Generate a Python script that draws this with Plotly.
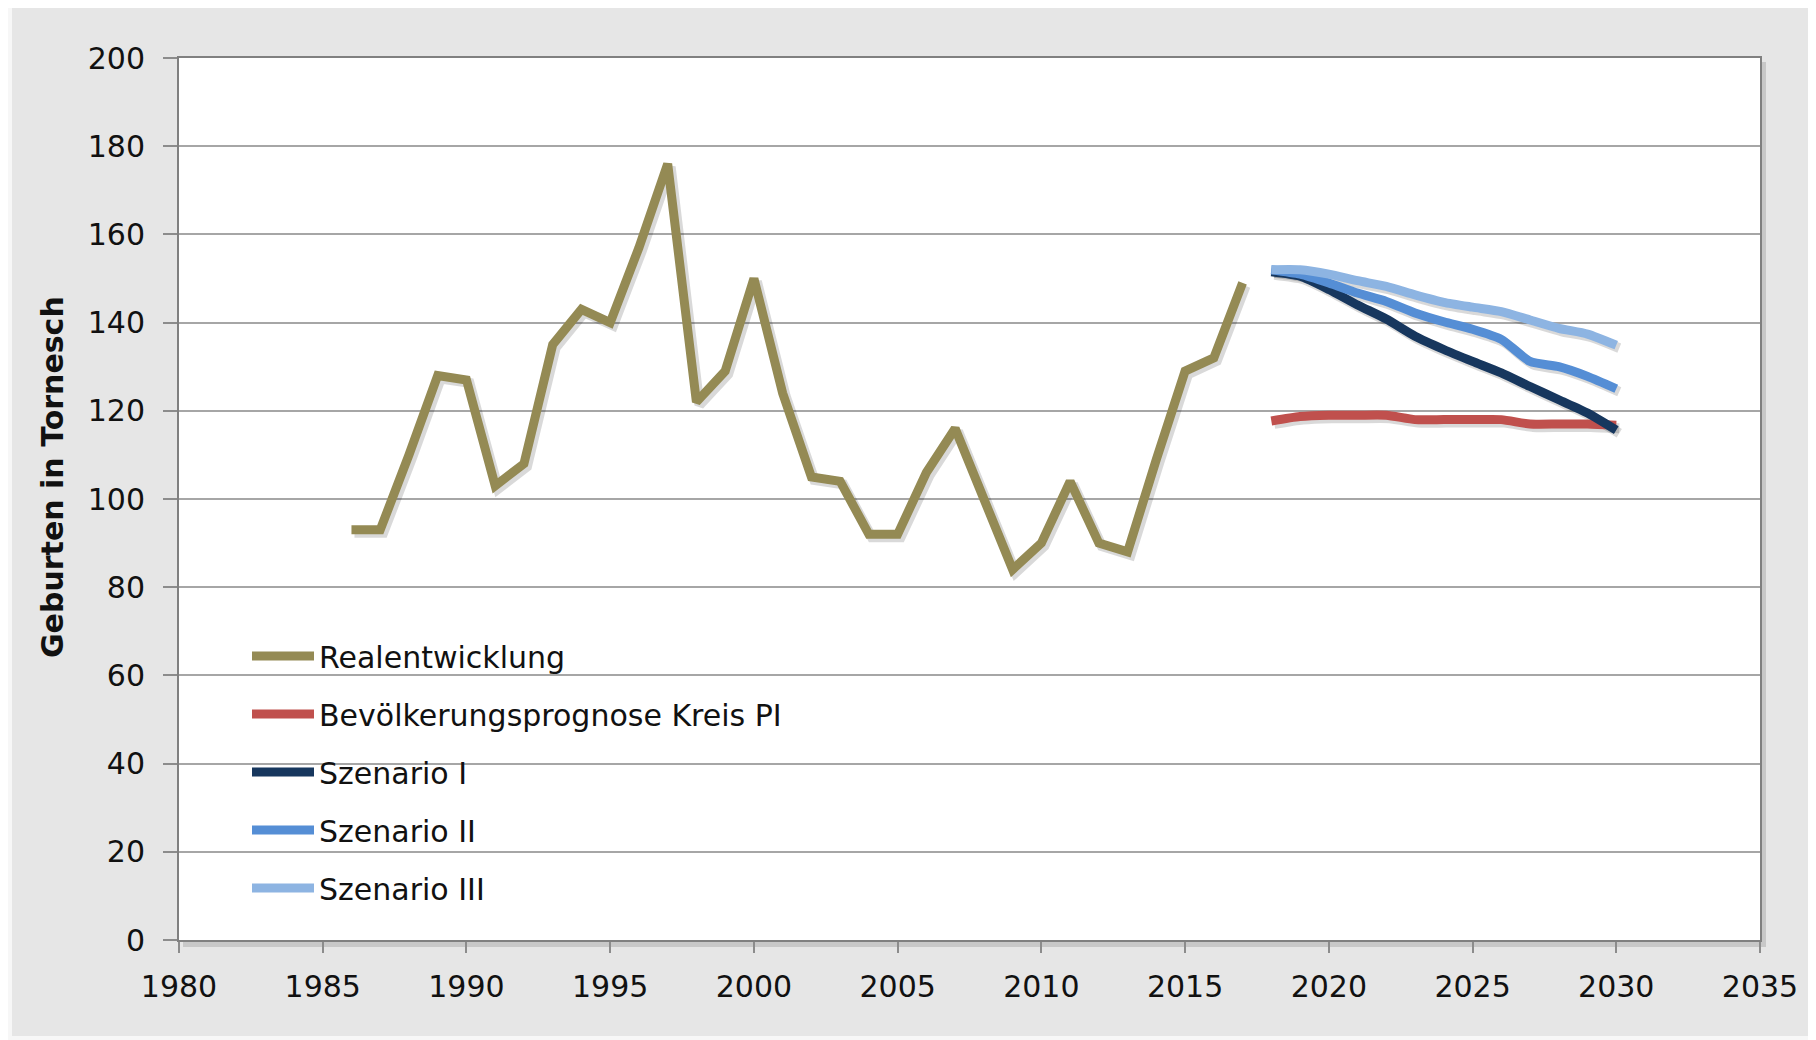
import plotly.graph_objects as go

# ---------------- data ----------------
years_real = list(range(1986, 2018))
real = [93, 93, 110, 128, 127, 103, 108, 135, 143, 140, 157, 176, 122, 129, 150, 124,
        105, 104, 92, 92, 106, 116, 100, 84, 90, 104, 90, 88, 109, 129, 132, 149]

years_prog = list(range(2018, 2031))
prognose_kreis = [117.7, 118.7, 119, 119, 119, 118, 118, 118, 118, 117, 117, 117, 116.7]
szenario_1 = [151.5, 150.5, 147.5, 144, 140.8, 136.9, 133.9, 131.2, 128.6, 125.5, 122.5, 119.5, 115.6]
szenario_2 = [152, 151, 149, 146.7, 144.8, 142.2, 140.2, 138.5, 136.2, 131.2, 130, 127.8, 125]
szenario_3 = [152, 152, 151, 149.5, 148.2, 146.3, 144.6, 143.5, 142.5, 140.6, 138.7, 137.4, 134.9]

names = ["Realentwicklung", "Bevölkerungsprognose Kreis PI", "Szenario I", "Szenario II", "Szenario III"]
colors = ["#948A54", "#C0504D", "#17375E", "#558ED5", "#8DB4E2"]
x_ticks = list(range(1980, 2036, 5))
y_ticks = list(range(0, 201, 20))
y_title = "Geburten in Tornesch"

# ---------------- layout geometry (screen px; page body has 8px margin) ----------------
OFF = 8
W, H = 1816 - OFF, 1040 - OFF
L, R, T, B = 179 - OFF, 1760 - OFF, 58 - OFF, 940 - OFF
pw, ph = R - L, B - T
xr = [1980, 2035]
yr = [0, 200]
ppx = pw / (xr[1] - xr[0])
ppy = ph / (yr[1] - yr[0])


def px(p):  # screen x -> paper
    return (p - OFF - L) / pw


def py(p):  # screen y -> paper
    return (B - (p - OFF)) / ph


FONT = "DejaVu Sans"
FS = 30
series = [(years_real, real, "linear"),
          (years_prog, prognose_kreis, "spline"),
          (years_prog, szenario_1, "spline"),
          (years_prog, szenario_2, "spline"),
          (years_prog, szenario_3, "spline")]

fig = go.Figure()

# soft shadows (on hidden, slightly shifted axes x/y)
for (xs, ys, shp) in series:
    fig.add_trace(go.Scatter(x=xs, y=ys, mode="lines", xaxis="x", yaxis="y",
                             line=dict(color="rgba(0,0,0,0.15)", width=10, shape=shp, smoothing=0.6),
                             showlegend=False, hoverinfo="skip"))

# main lines (on visible axes x2/y2)
for (xs, ys, shp), n, c in zip(series, names, colors):
    fig.add_trace(go.Scatter(x=xs, y=ys, mode="lines", name=n, xaxis="x2", yaxis="y2",
                             legendgroup=n,
                             line=dict(color=c, width=9, shape=shp, smoothing=0.6)))

shift = 3
shapes = [
    # light outer strips
    dict(type="rect", xref="paper", yref="paper", x0=px(0), x1=px(12), y0=py(1045), y1=py(0),
         fillcolor="#f7f7f7", line=dict(width=0), layer="below"),
    dict(type="rect", xref="paper", yref="paper", x0=px(0), x1=px(1830), y0=py(1045), y1=py(1036),
         fillcolor="#f7f7f7", line=dict(width=0), layer="below"),
    # plot-area shadow
    dict(type="rect", xref="paper", yref="paper", x0=px(179 + 4), x1=px(1760 + 6), y0=py(940 + 7), y1=py(58 + 4),
         fillcolor="rgba(0,0,0,0.13)", line=dict(width=0), layer="below"),
    # plot area
    dict(type="rect", xref="paper", yref="paper", x0=0, x1=1, y0=0, y1=1,
         fillcolor="white", line=dict(width=0), layer="below"),
    # legend background (hides gridlines)
    dict(type="rect", xref="paper", yref="paper", x0=px(208), x1=px(836), y0=py(925), y1=py(612),
         fillcolor="white", line=dict(width=0), layer="between"),
]

fig.update_layout(
    width=W, height=H,
    margin=dict(l=L, r=W - R, t=T, b=H - B, pad=0, autoexpand=False),
    paper_bgcolor="#e6e6e6",
    plot_bgcolor="rgba(0,0,0,0)",
    font=dict(family=FONT, size=FS, color="#111111"),
    shapes=shapes,
    annotations=[dict(text="<b>" + y_title + "</b>", textangle=-90, xref="paper", yref="paper",
                      x=px(52), y=py(477), xanchor="center", yanchor="middle", showarrow=False,
                      font=dict(family=FONT, size=30, color="#111111"))],
    showlegend=True,
    legend=dict(x=px(247), y=py(630), xanchor="left", yanchor="top",
                bgcolor="rgba(0,0,0,0)", borderwidth=0,
                font=dict(family=FONT, size=FS, color="#111111"),
                itemwidth=62, tracegroupgap=16, traceorder="grouped"),
    xaxis=dict(range=[xr[0] - shift / ppx, xr[1] - shift / ppx], visible=False, fixedrange=True),
    yaxis=dict(range=[yr[0] + shift / ppy, yr[1] + shift / ppy], visible=False, fixedrange=True),
    xaxis2=dict(range=xr, overlaying="x", anchor="y2", side="bottom", automargin=False,
                tickvals=x_ticks, ticks="outside", ticklen=11, tickwidth=1.5, tickcolor="#8c8c8c",
                showgrid=False, zeroline=False,
                showline=True, mirror=True, linecolor="#808080", linewidth=2,
                tickfont=dict(family=FONT, size=FS, color="#111111"), ticklabelstandoff=8),
    yaxis2=dict(range=yr, overlaying="y", anchor="x2", side="left", automargin=False,
                tickvals=y_ticks, ticks="outside", ticklen=14, tickwidth=1.5, tickcolor="#8c8c8c",
                showgrid=True, gridcolor="#a6a6a6", gridwidth=1.5, zeroline=False,
                showline=True, mirror=True, linecolor="#808080", linewidth=2,
                tickfont=dict(family=FONT, size=FS, color="#111111"), ticklabelstandoff=12),
)

fig.write_html("out.html")
